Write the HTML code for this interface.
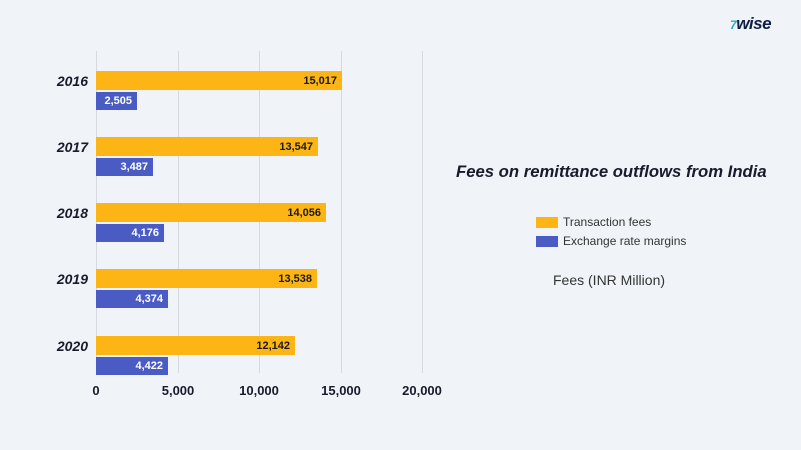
<!DOCTYPE html>
<html><head><meta charset="utf-8"><style>
body{margin:0;width:801px;height:450px;background:#f0f4f8;position:relative;overflow:hidden;font-family:"Liberation Sans",sans-serif}
.g{position:absolute;top:51px;height:322px;width:1px;background:#d6d9dd}
.o,.b{position:absolute;left:96px;height:18px;font-size:11px;font-weight:bold;text-align:right;line-height:19px;box-sizing:border-box;padding-right:5px}
.o{background:#fdb515;color:#1a1a1a;height:19px;line-height:20px}
.b{background:#4a5bc4;color:#fff}
.y{position:absolute;left:40px;width:48px;text-align:right;font-style:italic;font-weight:bold;font-size:14px;color:#1a1a2a}
.x{position:absolute;top:383px;font-weight:bold;font-size:13px;color:#1a1a2a;transform:translateX(-50%)}
</style></head><body>
<div class="g" style="left:96px"></div><div class="g" style="left:178px"></div><div class="g" style="left:259px"></div><div class="g" style="left:341px"></div><div class="g" style="left:422px"></div>

<div class="y" style="top:73px">2016</div>
<div class="o" style="top:71px;width:246px">15,017</div>
<div class="b" style="top:92px;width:41px">2,505</div>

<div class="y" style="top:139px">2017</div>
<div class="o" style="top:137px;width:222px">13,547</div>
<div class="b" style="top:158px;width:57px">3,487</div>

<div class="y" style="top:205px">2018</div>
<div class="o" style="top:203px;width:230px">14,056</div>
<div class="b" style="top:224px;width:68px">4,176</div>

<div class="y" style="top:271px">2019</div>
<div class="o" style="top:269px;width:221px">13,538</div>
<div class="b" style="top:290px;width:72px">4,374</div>

<div class="y" style="top:338px">2020</div>
<div class="o" style="top:336px;width:199px">12,142</div>
<div class="b" style="top:357px;width:72px">4,422</div>

<div class="x" style="left:96px">0</div>
<div class="x" style="left:178px">5,000</div>
<div class="x" style="left:259px">10,000</div>
<div class="x" style="left:341px">15,000</div>
<div class="x" style="left:422px">20,000</div>

<div style="position:absolute;left:456px;top:162px;font-size:16.7px;font-weight:bold;font-style:italic;color:#1a1a2a">Fees on remittance outflows from India</div>
<div style="position:absolute;left:536px;top:217px;width:22px;height:11px;background:#fdb515"></div>
<div style="position:absolute;left:563px;top:215px;font-size:12px;color:#333">Transaction fees</div>
<div style="position:absolute;left:536px;top:236px;width:22px;height:11px;background:#4a5bc4"></div>
<div style="position:absolute;left:563px;top:234px;font-size:12px;color:#333">Exchange rate margins</div>
<div style="position:absolute;left:553px;top:272px;font-size:14px;color:#333">Fees (INR Million)</div>

<div style="position:absolute;left:730px;top:14px;font-size:17px;font-weight:900;font-style:italic;letter-spacing:-0.5px"><span style="color:#2aa7c9;font-size:12px;font-weight:bold">7</span><span style="color:#0e1e45">wise</span></div>
</body></html>
